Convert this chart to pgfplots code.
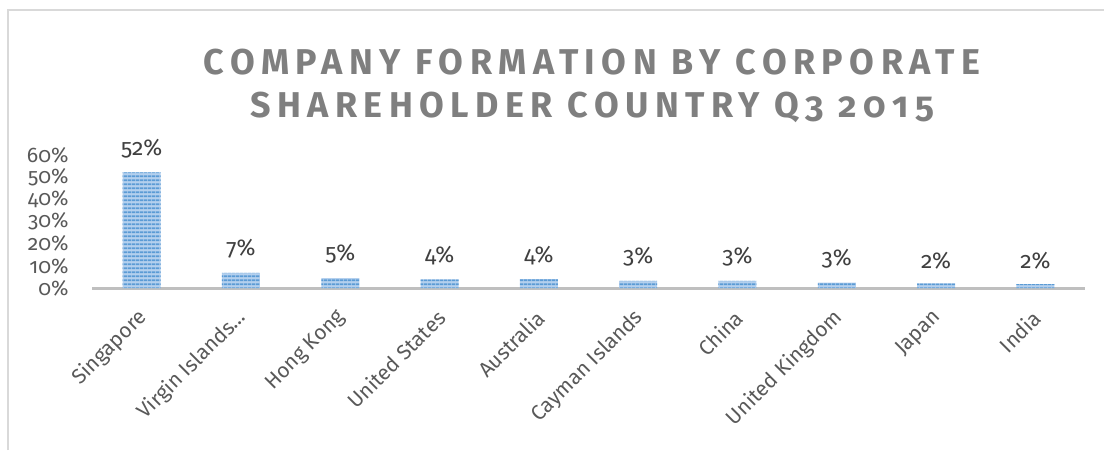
\documentclass[border=0pt]{standalone}
\usepackage{fontspec}
\setmainfont{Fira Sans}[Numbers=OldStyle]
\newfontfamily\titlefont{Fira Sans}[Numbers=OldStyle,LetterSpace=18]
\usepackage{pgfplots}
\pgfplotsset{compat=1.18}
\usepackage{pgfplotstable}
\usetikzlibrary{patterns.meta}
\definecolor{barblue}{HTML}{5B9BD5}
\definecolor{barlight}{HTML}{B4D0EE}
\definecolor{axgray}{HTML}{BFBFBF}
\definecolor{bordergray}{HTML}{D9D9D9}
\definecolor{ticktext}{HTML}{595959}
\definecolor{labtext}{HTML}{404040}
\definecolor{titlegray}{HTML}{7F7F7F}
\pgfplotstableread{
x val lab
0 52.2 52
1 6.8 7
2 4.5 5
3 3.9 4
4 4.0 4
5 3.2 3
6 3.2 3
7 2.4 3
8 2.1 2
9 1.8 2
}\datatable
\begin{document}
\begin{tikzpicture}[x=1bp,y=1bp]
\path[use as bounding box] (0,0) rectangle (552,225);
\draw[color=bordergray, line width=0.75bp] (4,0) -- (4,220) -- (552,220);
\node[font=\titlefont\fontseries{sb}\selectfont\fontsize{18}{20}\selectfont, text=titlegray, inner sep=0] at (296,194) {COMPANY FORMATION BY CORPORATE};
\node[font=\titlefont\fontseries{sb}\selectfont\fontsize{18}{20}\selectfont, text=titlegray, inner sep=0] at (296,171.5) {SHAREHOLDER COUNTRY Q3 2015};
\begin{axis}[at={(46bp,81bp)}, anchor=south west, scale only axis,
  width=496.5bp, height=66.5bp,
  xmin=-0.5, xmax=9.5, ymin=0, ymax=60,
  axis x line*=bottom, axis y line*=left,
  y axis line style={draw=none},
  x axis line style={-, line width=1.5bp, color=axgray},
  major tick length=0pt,
  ytick={0,10,...,60},
  /pgf/number format/assume math mode=true,
  yticklabel={\pgfmathprintnumber{\tick}\%},
  yticklabel style={font=\fontseries{l}\selectfont\fontsize{10.6}{10.6}\selectfont, text=ticktext, inner sep=0pt, anchor=east, xshift=-11.5bp},
  xtick={0,...,9},
  xticklabels={Singapore, Virgin Islands…, Hong Kong, United States, Australia, Cayman Islands, China, United Kingdom, Japan, India},
  xticklabel style={font=\fontseries{l}\selectfont\fontsize{10.5}{10.5}\selectfont, text=ticktext, xshift=1bp, yshift=-13bp, rotate=45, anchor=east, inner sep=0pt},
  nodes near coords={\pgfplotspointmeta\%},
  point meta=explicit symbolic,
  nodes near coords style={font=\fontseries{l}\selectfont\fontsize{11.5}{11.5}\selectfont, text=labtext, anchor=south, inner sep=0pt, yshift=7bp},
  clip=false,
]
\addplot[ybar, bar width=19bp, draw=none, fill=barlight,
  postaction={pattern={Lines[angle=0,distance=1.85bp,line width=1bp]}, pattern color=barblue}]
  table[x=x, y=val, meta=lab]{\datatable};
\end{axis}
\end{tikzpicture}
\end{document}
